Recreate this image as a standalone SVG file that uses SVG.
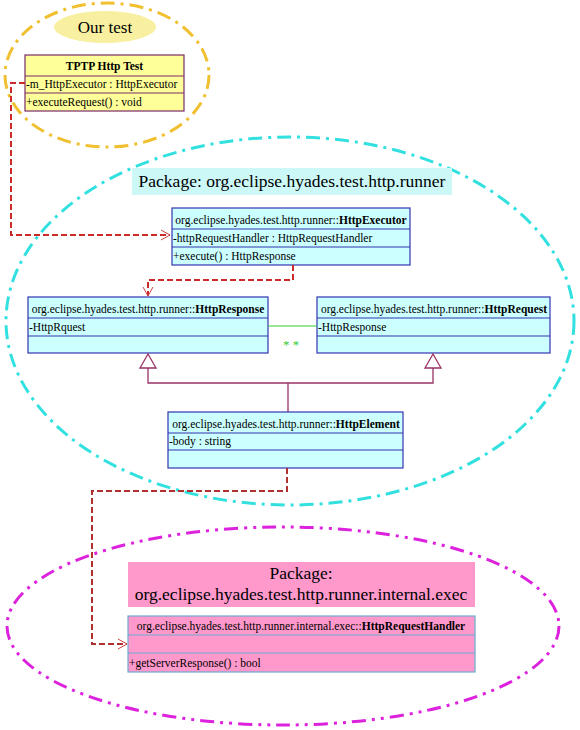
<svg xmlns="http://www.w3.org/2000/svg" width="580" height="730" viewBox="0 0 580 730">
<style>
.t{font-family:"Liberation Serif","Times New Roman",serif;fill:#000}
.cls{font-size:11.5px}
.hdr{font-size:11.5px;text-anchor:middle}
.pkg{font-size:17.5px;text-anchor:middle}
.cy{fill:#ccffff;stroke:#3333b0;stroke-width:1.2}
.ye{fill:#ffff99;stroke:#7a2a6a;stroke-width:1.2}
.pk{fill:#ff99cc;stroke:#6aaed0;stroke-width:1.2}
.dep{fill:none;stroke:#cc2a2a;stroke-width:2;stroke-dasharray:6 3}
.dep2{fill:none;stroke:#b03030;stroke-width:2;stroke-dasharray:6 3}
.inh{fill:none;stroke:#993366;stroke-width:1.3}
.b{font-weight:bold}
</style>
<defs>
<marker id="open" markerWidth="12" markerHeight="12" refX="10" refY="6" orient="auto" markerUnits="userSpaceOnUse">
<path d="M1,1 L10,6 L1,11" fill="none" stroke="#cc4444" stroke-width="1"/>
</marker>
</defs>

<!-- package ellipses -->
<g id="pkg-ourtest">
<ellipse cx="107" cy="75" rx="102" ry="72" fill="none" stroke="#f0c030" stroke-width="3" stroke-dasharray="14 6 3 6"/>
<ellipse cx="105" cy="27" rx="51" ry="16" fill="#f8f0a0"/>
<text class="t" x="105" y="33" font-size="17" text-anchor="middle">Our test</text>
</g>
<g id="pkg-runner">
<ellipse cx="290" cy="321" rx="284" ry="184" fill="none" stroke="#33e0e0" stroke-width="3" stroke-dasharray="14 6 3 6"/>
<rect x="132" y="168" width="320" height="27" fill="#ccf8f8"/>
<text class="t pkg" x="292" y="187">Package: org.eclipse.hyades.test.http.runner</text>
</g>
<g id="pkg-exec">
<ellipse cx="283" cy="626" rx="276" ry="99" fill="none" stroke="#dd22dd" stroke-width="3" stroke-dasharray="14 6 3 6 3 6"/>
<rect x="128" y="562" width="347" height="45" fill="#ff99cc"/>
<text class="t pkg" x="301" y="579">Package:</text>
<text class="t pkg" x="301" y="600">org.eclipse.hyades.test.http.runner.internal.exec</text>
</g>

<!-- classes -->
<g id="TPTPHttpTest">
<rect class="ye" x="25" y="55" width="159" height="56"/>
<line x1="25" y1="76" x2="184" y2="76" stroke="#7a2a6a" stroke-width="1.2"/>
<line x1="25" y1="93" x2="184" y2="93" stroke="#7a2a6a" stroke-width="1.2"/>
<text class="t hdr b" x="104.5" y="70">TPTP Http Test</text>
<text class="t cls" x="26" y="88">-m_HttpExecutor : HttpExecutor</text>
<text class="t cls" x="26" y="106">+executeRequest() : void</text>
</g>

<g id="HttpExecutor">
<rect class="cy" x="172" y="208" width="238" height="57"/>
<line x1="172" y1="229" x2="410" y2="229" stroke="#3333b0" stroke-width="1.2"/>
<line x1="172" y1="247" x2="410" y2="247" stroke="#3333b0" stroke-width="1.2"/>
<text class="t hdr" x="291" y="224">org.eclipse.hyades.test.http.runner::<tspan class="b">HttpExecutor</tspan></text>
<text class="t cls" x="173" y="242">-httpRequestHandler : HttpRequestHandler</text>
<text class="t cls" x="173" y="260">+execute() : HttpResponse</text>
</g>

<g id="HttpResponse">
<rect class="cy" x="28" y="297" width="240" height="56"/>
<line x1="28" y1="318" x2="268" y2="318" stroke="#3333b0" stroke-width="1.2"/>
<line x1="28" y1="336" x2="268" y2="336" stroke="#3333b0" stroke-width="1.2"/>
<text class="t hdr" x="148" y="313">org.eclipse.hyades.test.http.runner::<tspan class="b">HttpResponse</tspan></text>
<text class="t cls" x="29" y="331">-HttpRquest</text>
</g>

<g id="HttpRequest">
<rect class="cy" x="317" y="297" width="233" height="56"/>
<line x1="317" y1="318" x2="550" y2="318" stroke="#3333b0" stroke-width="1.2"/>
<line x1="317" y1="336" x2="550" y2="336" stroke="#3333b0" stroke-width="1.2"/>
<text class="t hdr" x="434" y="313">org.eclipse.hyades.test.http.runner::<tspan class="b">HttpRequest</tspan></text>
<text class="t cls" x="318" y="331">-HttpResponse</text>
</g>

<g id="HttpElement">
<rect class="cy" x="168" y="412" width="235" height="56"/>
<line x1="168" y1="433" x2="403" y2="433" stroke="#3333b0" stroke-width="1.2"/>
<line x1="168" y1="450" x2="403" y2="450" stroke="#3333b0" stroke-width="1.2"/>
<text class="t hdr" x="286" y="428">org.eclipse.hyades.test.http.runner::<tspan class="b">HttpElement</tspan></text>
<text class="t cls" x="169" y="445">-body : string</text>
</g>

<g id="HttpRequestHandler">
<rect class="pk" x="128" y="616" width="347" height="56"/>
<line x1="128" y1="635" x2="475" y2="635" stroke="#6aaed0" stroke-width="1.2"/>
<line x1="128" y1="653" x2="475" y2="653" stroke="#6aaed0" stroke-width="1.2"/>
<text class="t hdr" x="301" y="630">org.eclipse.hyades.test.http.runner.internal.exec::<tspan class="b">HttpRequestHandler</tspan></text>
<text class="t cls" x="129" y="667">+getServerResponse() : bool</text>
</g>

<!-- connectors -->
<g id="connectors">
<path class="dep" d="M25,83 H11 V235 H170" marker-end="url(#open)"/>
<path class="dep" d="M293,265 V280 H148 V296" marker-end="url(#open)"/>
<path class="dep2" d="M287,468 V491 H92 V644 H127" marker-end="url(#open)"/>
<line x1="268" y1="326" x2="317" y2="326" stroke="#33cc33" stroke-width="1.2"/>
<text class="t" x="291" y="349" font-size="13" text-anchor="middle" style="fill:#33cc33">* *</text>
<path class="inh" d="M288,412 V383 M148,368 V383 H433 V368"/>
<path class="inh" d="M148,354 L140,368 H156 Z" style="fill:#ffffff"/>
<path class="inh" d="M433,354 L425,368 H441 Z" style="fill:#ffffff"/>
</g>
</svg>
